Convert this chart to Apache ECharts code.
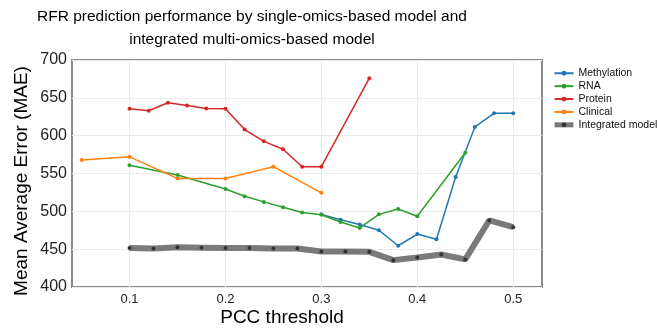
<!DOCTYPE html>
<html>
<head>
<meta charset="utf-8">
<script src="https://cdn.jsdelivr.net/npm/echarts@6/dist/echarts.min.js"></script>
<style>
html,body{margin:0;padding:0;background:#fff;}
#chart{width:657px;height:334px;}
</style>
</head>
<body>
<div id="chart"></div>
<script>
const titleLines = ['RFR prediction performance by single-omics-based model and', 'integrated multi-omics-based model'];
const xTitle = 'PCC threshold';
const yTitle = 'Mean Average Error (MAE)';
const xTicks = [0.1, 0.2, 0.3, 0.4, 0.5];

const methylX = [0.3, 0.32, 0.34, 0.36, 0.38, 0.4, 0.42, 0.44, 0.46, 0.48, 0.5];
const methylY = [496, 489, 482.5, 475, 454.5, 470, 463, 545.5, 611.5, 629.5, 629.5];
const rnaX = [0.1, 0.15, 0.2, 0.22, 0.24, 0.26, 0.28, 0.3, 0.32, 0.34, 0.36, 0.38, 0.4, 0.45];
const rnaY = [561, 548, 529.5, 520, 512.5, 505.5, 498.5, 495.5, 486, 478, 496, 503, 493.5, 577.5];
const proteinX = [0.1, 0.12, 0.14, 0.16, 0.18, 0.2, 0.22, 0.24, 0.26, 0.28, 0.3, 0.35];
const proteinY = [635.5, 633, 643.5, 640, 636, 635.5, 608, 592.5, 582, 559, 559, 676];
const clinicalX = [0.05, 0.1, 0.15, 0.2, 0.25, 0.3];
const clinicalY = [568, 572, 543.5, 543.5, 559, 524.5];
const integratedX = [0.1, 0.125, 0.15, 0.175, 0.2, 0.225, 0.25, 0.275, 0.3, 0.325, 0.35, 0.375, 0.4, 0.425, 0.45, 0.475, 0.5];
const integratedY = [451.5, 451, 452.5, 452, 451.5, 451.5, 451, 451, 447, 447, 446.5, 435.5, 439, 443, 436.5, 488, 479];

const FONT = '"Liberation Sans", Arial, Helvetica, sans-serif';
const zip = (xs, ys) => xs.map((x, i) => [x, ys[i]]);

function thin(name, color, xs, ys) {
  return {
    name, type: 'line', data: zip(xs, ys),
    symbol: 'circle', symbolSize: 4,
    lineStyle: { color, width: 1.5 },
    itemStyle: { color },
    emphasis: { disabled: true }
  };
}

const chart = echarts.init(document.getElementById('chart'), null, { renderer: 'canvas' });
chart.setOption({
  animation: false,
  backgroundColor: '#fff',
  grid: { left: 72, right: 115, top: 60, bottom: 47, show: true, borderColor: '#8a8a8a', borderWidth: 2, backgroundColor: 'transparent' },
  xAxis: {
    type: 'value', min: 0.04, max: 0.53,
    axisLine: { show: false },
    axisTick: { show: false, customValues: xTicks },
    axisLabel: { customValues: xTicks, fontSize: 13, color: '#222', fontFamily: FONT, margin: 6, formatter: v => String(Math.round(v * 10) / 10) },
    splitLine: { show: true, lineStyle: { color: '#ececec', width: 1 } }
  },
  yAxis: {
    type: 'value', min: 400, max: 700, interval: 50,
    axisLine: { show: false },
    axisTick: { show: false },
    axisLabel: { fontSize: 16, color: '#222', fontFamily: FONT, margin: 5 },
    splitLine: { show: true, lineStyle: { color: '#ececec', width: 1 } }
  },
  legend: {
    orient: 'vertical', left: 552, top: 67, padding: 0,
    itemWidth: 19, itemHeight: 6, itemGap: 0.4,
    textStyle: { fontSize: 10.5, color: '#111', fontFamily: FONT, lineHeight: 12.5 },
    data: ['Methylation', 'RNA', 'Protein', 'Clinical',
      { name: 'Integrated model', lineStyle: { width: 5, color: '#7a7a7a' } }]
  },
  series: [
    thin('Methylation', '#1f77b4', methylX, methylY),
    thin('RNA', '#2ca02c', rnaX, rnaY),
    thin('Protein', '#d62728', proteinX, proteinY),
    thin('Clinical', '#ff7f0e', clinicalX, clinicalY),
    {
      name: 'Integrated model', type: 'line', data: zip(integratedX, integratedY),
      symbol: 'circle', symbolSize: 4,
      lineStyle: { color: '#7a7a7a', width: 6 },
      itemStyle: { color: '#333' },
      emphasis: { disabled: true }
    }
  ],
  graphic: [
    { type: 'text', x: 252, y: 17, style: { text: titleLines[0], font: '15.5px ' + FONT, fill: '#000', textAlign: 'center', textVerticalAlign: 'middle' } },
    { type: 'text', x: 252, y: 40, style: { text: titleLines[1], font: '15.5px ' + FONT, fill: '#000', textAlign: 'center', textVerticalAlign: 'middle' } },
    { type: 'text', x: 282, y: 318, style: { text: xTitle, font: '19px ' + FONT, fill: '#000', textAlign: 'center', textVerticalAlign: 'middle' } },
    { type: 'text', x: 22, y: 181, rotation: Math.PI / 2, style: { text: yTitle, font: '19px ' + FONT, fill: '#000', textAlign: 'center', textVerticalAlign: 'middle' } }
  ]
});
</script>
</body>
</html>
